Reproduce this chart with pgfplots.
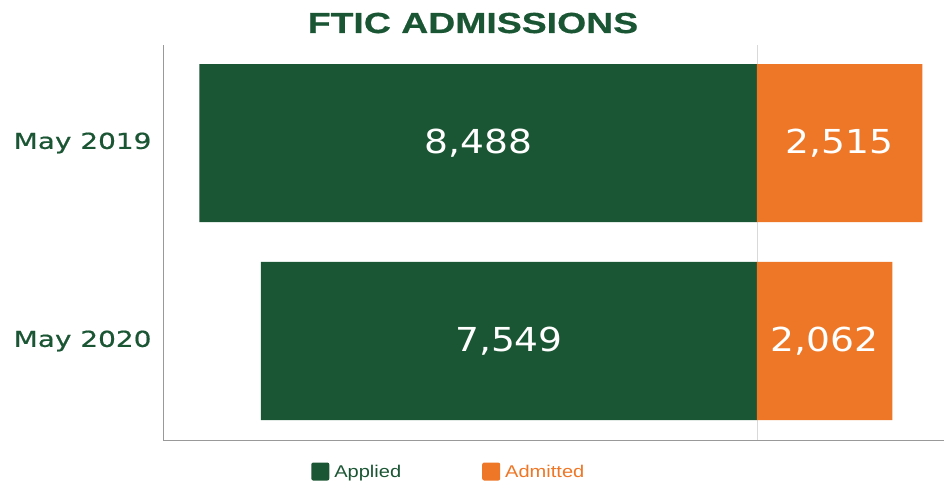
\documentclass[border=0pt]{standalone}
\usepackage{pgfplots}
\pgfplotsset{compat=1.18}
\usepackage{fontspec}
\newfontfamily\labfont[FakeStretch=1.27, FakeBold=0.7]{DejaVu Sans}
\newfontfamily\valfont[FakeStretch=1.14]{DejaVu Sans}
\newfontfamily\ttlfont[FakeStretch=1.29, FakeBold=0.6]{Liberation Sans Bold}
\newfontfamily\legfont[FakeStretch=1.18]{Liberation Sans}
\definecolor{fgreen}{RGB}{27,86,52}
\definecolor{forange}{RGB}{238,119,39}
\begin{document}
\begin{tikzpicture}
\useasboundingbox (0,0) rectangle (944bp,485bp);
\begin{axis}[
  at={(163bp,45bp)}, anchor=south west,
  scale only axis, width=781bp, height=395bp,
  xmin=-9040, xmax=2846, ymin=-0.5, ymax=1.495,
  axis lines*=left,
  axis line style={draw=black!40, line width=0.8pt},
  xtick={0}, xticklabels={}, xmajorgrids,
  grid style={black!15, line width=0.6pt},
  ytick={0,1}, yticklabels={May 2020, May 2019},
  major tick length=0pt,
  yticklabel style={font=\labfont\fontsize{22bp}{22bp}\selectfont, text=fgreen, xshift=-8bp},
  legend columns=2,
  legend style={draw=none, fill=none, at={(0.366,-0.081)}, anchor=center,
    font=\legfont\fontsize{17bp}{17bp}\selectfont,
    /tikz/every even column/.append style={column sep=79bp}},
  clip=false,
]
\addplot[xbar, bar shift=0pt, bar width=158bp, fill=fgreen, draw=none,
  legend image code/.code={\fill[fgreen, rounded corners=2bp] (-5bp,-8bp) rectangle (13bp,10bp);}]
  coordinates {(-7549,0) (-8488,1)};
\addlegendentry{\hspace{3bp}\textcolor{fgreen}{Applied}}
\addplot[xbar, bar shift=0pt, bar width=158bp, fill=forange, draw=none,
  legend image code/.code={\fill[forange, rounded corners=2bp] (-5bp,-8bp) rectangle (13bp,10bp);}]
  coordinates {(2062,0) (2515,1)};
\addlegendentry{\hspace{3bp}\textcolor{forange}{Admitted}}
\addplot[draw=none, mark=none, forget plot, nodes near coords, point meta=explicit symbolic,
  nodes near coords style={anchor=center, text=white, font=\valfont\fontsize{33bp}{33bp}\selectfont}]
  table[x expr=\thisrow{x}/2, y=y, meta=label] {
x y label
-7549 0 7,549
-8488 1 8,488
2062 0 2,062
2515 1 2,515
};
\end{axis}
\node[anchor=base, text=fgreen, font=\ttlfont\fontsize{29bp}{29bp}\selectfont] at (473bp,452bp) {FTIC ADMISSIONS};
\end{tikzpicture}
\end{document}
